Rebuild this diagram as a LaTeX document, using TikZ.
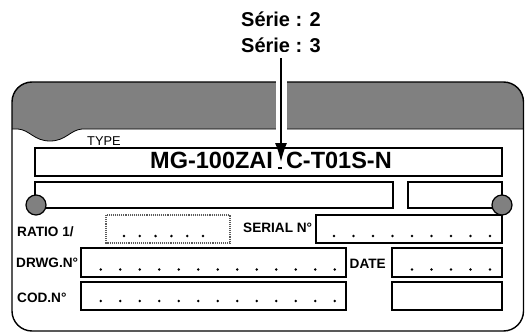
\documentclass[tikz,border=0pt]{standalone}
\usepackage{fontspec}
\setmainfont{Liberation Sans}
\usetikzlibrary{arrows.meta,positioning}
\definecolor{plategray}{RGB}{128,128,128}

\begin{document}
\begin{tikzpicture}[x=1pt,y=-1pt,>={Latex[length=19pt,width=12pt]},
   lbl/.style={font=\bfseries\fontsize{13.6}{14}\selectfont,anchor=base west,inner sep=0pt},
   ser/.style={font=\bfseries\fontsize{20}{20}\selectfont,anchor=base,inner sep=0pt},
   box/.style={line width=1.5pt},
   pin/.style={draw,line width=1.2pt,fill=plategray}]
  \useasboundingbox (0,0) rectangle (525,332);
  % plate with grey band
  \fill[plategray] (12,129) -- (12,102) arc[start angle=180,end angle=270,radius=20]
    -- (503.5,82) arc[start angle=270,end angle=360,radius=20] -- (523.5,129) -- (82,129)
    .. controls (70,130) and (66,141) .. (50,141) .. controls (34,141) and (30,130) .. (18,129) -- cycle;
  \draw[line width=0.8pt] (523.5,129) -- (82,129)
    .. controls (70,130) and (66,141) .. (50,141) .. controls (34,141) and (30,130) .. (18,129) -- (12,129);
  \draw[line width=1.4pt,rounded corners=20pt] (12,82) rectangle (523.5,331);
  % series
  \node[ser] (ser2) at (281,27) {Série : 2};
  \node[ser] (ser3) at (281,52) {Série : 3};
  \coordinate (tip) at (281,162);
  \draw[white,line width=11pt] (ser3.south) -- (281,130);
  \draw[->,line width=1.5pt,shorten <=6pt] (ser3.south) -- (tip);
  % fields
  \draw[box] (35,148) rectangle (502,176);
  \draw[box] (35,182) rectangle (393,208);
  \draw[box] (408,182) rectangle (502,208);
  \draw[gray!70!black,densely dotted,line width=1.1pt] (106,215) rectangle (230,243);
  \draw[box] (316,215) rectangle (502,243);
  \draw[box] (81,248) rectangle (346,277);
  \draw[box] (392,248) rectangle (502,277);
  \draw[box] (81,282) rectangle (346,310);
  \draw[box] (392,282) rectangle (502,310);
  \draw[pin] (36,205) circle[radius=10];
  \draw[pin] (502,205) circle[radius=10];
  \foreach \i in {0,...,5} \fill (124+15.8*\i,236) circle[radius=1.4];
  \foreach \i in {0,...,8} \fill (334+19.5*\i,236) circle[radius=1.4];
  \foreach \i in {0,...,12} {
    \fill (100.7+19.5*\i,269.5) circle[radius=1.4];
    \fill (100.7+19.5*\i,301) circle[radius=1.4];
  }
  \foreach \i in {0,...,4} \fill (412+19.5*\i,269.5) circle[radius=1.4];
  % labels
  \node[font=\fontsize{12.8}{13}\selectfont,anchor=base west,inner sep=0pt] (type) at (87,145) {TYPE};
  \node[font=\bfseries\fontsize{23.5}{24}\selectfont,anchor=base,inner sep=0pt] (model) at (271,168.5)
    {MG-100ZAI\rlap{\hspace{5pt}\rule{4pt}{2pt}}\phantom{0}C-T01S-N};
  \node[lbl] (ratio) at (17,236) {RATIO 1/};
  \node[lbl] (serial) at (243,232) {SERIAL N°};
  \node[lbl] (drwg) at (16,267) {DRWG.N°};
  \node[lbl] (date) at (349.5,268) {DATE};
  \node[lbl] (cod) at (17,302) {COD.N°};
\end{tikzpicture}
\end{document}
